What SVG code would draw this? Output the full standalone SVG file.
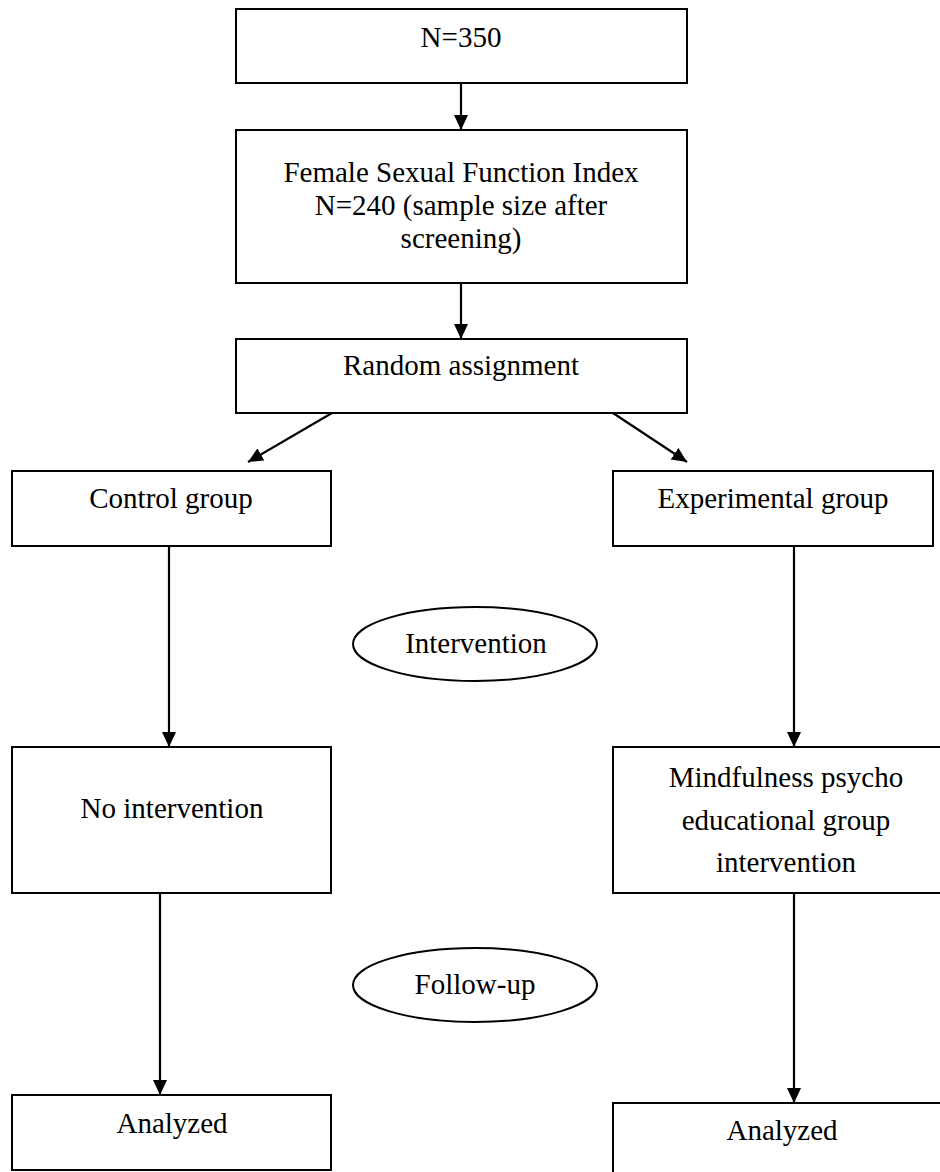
<svg xmlns="http://www.w3.org/2000/svg" width="940" height="1172" viewBox="0 0 940 1172">
<style>
.box{fill:#fff;stroke:#000;stroke-width:2}
.ell{fill:#fff;stroke:#000;stroke-width:2}
.t{font-family:"Liberation Serif","Times New Roman",serif;font-size:29px;fill:#000;text-anchor:middle}
.c{stroke:#000;stroke-width:2.2;fill:none;marker-end:url(#ah)}
</style>
<defs>
<marker id="ah" markerUnits="userSpaceOnUse" markerWidth="16" markerHeight="14" refX="15" refY="7" orient="auto">
<path d="M0,0 L15,7 L0,14 Z" fill="#000"/>
</marker>
</defs>
<rect width="940" height="1172" fill="#fff"/>
<g id="connectors">
<line class="c" x1="461" y1="83" x2="461" y2="130"/>
<line class="c" x1="461" y1="283" x2="461" y2="339"/>
<line class="c" x1="332" y1="413" x2="248" y2="462"/>
<line class="c" x1="613" y1="413" x2="687" y2="462"/>
<line class="c" x1="169" y1="546" x2="169" y2="747"/>
<line class="c" x1="794" y1="546" x2="794" y2="747"/>
<line class="c" x1="160" y1="893" x2="160" y2="1095"/>
<line class="c" x1="794" y1="893" x2="794" y2="1103"/>
</g>
<g id="n1"><rect class="box" x="236" y="9" width="451" height="74"/><text class="t" x="461" y="47">N=350</text></g>
<g id="n2"><rect class="box" x="236" y="130" width="451" height="153"/>
<text class="t" x="461" y="182">Female Sexual Function Index</text>
<text class="t" x="461" y="215">N=240 (sample size after</text>
<text class="t" x="461" y="248">screening)</text></g>
<g id="n3"><rect class="box" x="236" y="339" width="451" height="74"/><text class="t" x="461" y="375">Random assignment</text></g>
<g id="control"><rect class="box" x="12" y="471" width="319" height="75"/><text class="t" x="171" y="508">Control group</text></g>
<g id="experimental"><rect class="box" x="613" y="471" width="320" height="75"/><text class="t" x="773" y="508">Experimental group</text></g>
<g id="intervention"><ellipse class="ell" cx="475" cy="644" rx="122" ry="37"/><text class="t" x="476" y="653">Intervention</text></g>
<g id="nointervention"><rect class="box" x="12" y="747" width="319" height="146"/><text class="t" x="172" y="818">No intervention</text></g>
<g id="mindfulness"><rect class="box" x="613" y="747" width="350" height="146"/>
<text class="t" x="786" y="787">Mindfulness psycho</text>
<text class="t" x="786" y="830">educational group</text>
<text class="t" x="786" y="872">intervention</text></g>
<g id="followup"><ellipse class="ell" cx="475" cy="985" rx="122" ry="37"/><text class="t" x="475" y="994">Follow-up</text></g>
<g id="analyzed1"><rect class="box" x="12" y="1095" width="319" height="75"/><text class="t" x="172" y="1133">Analyzed</text></g>
<g id="analyzed2"><rect class="box" x="613" y="1103" width="350" height="80"/><text class="t" x="782" y="1140">Analyzed</text></g>
</svg>
